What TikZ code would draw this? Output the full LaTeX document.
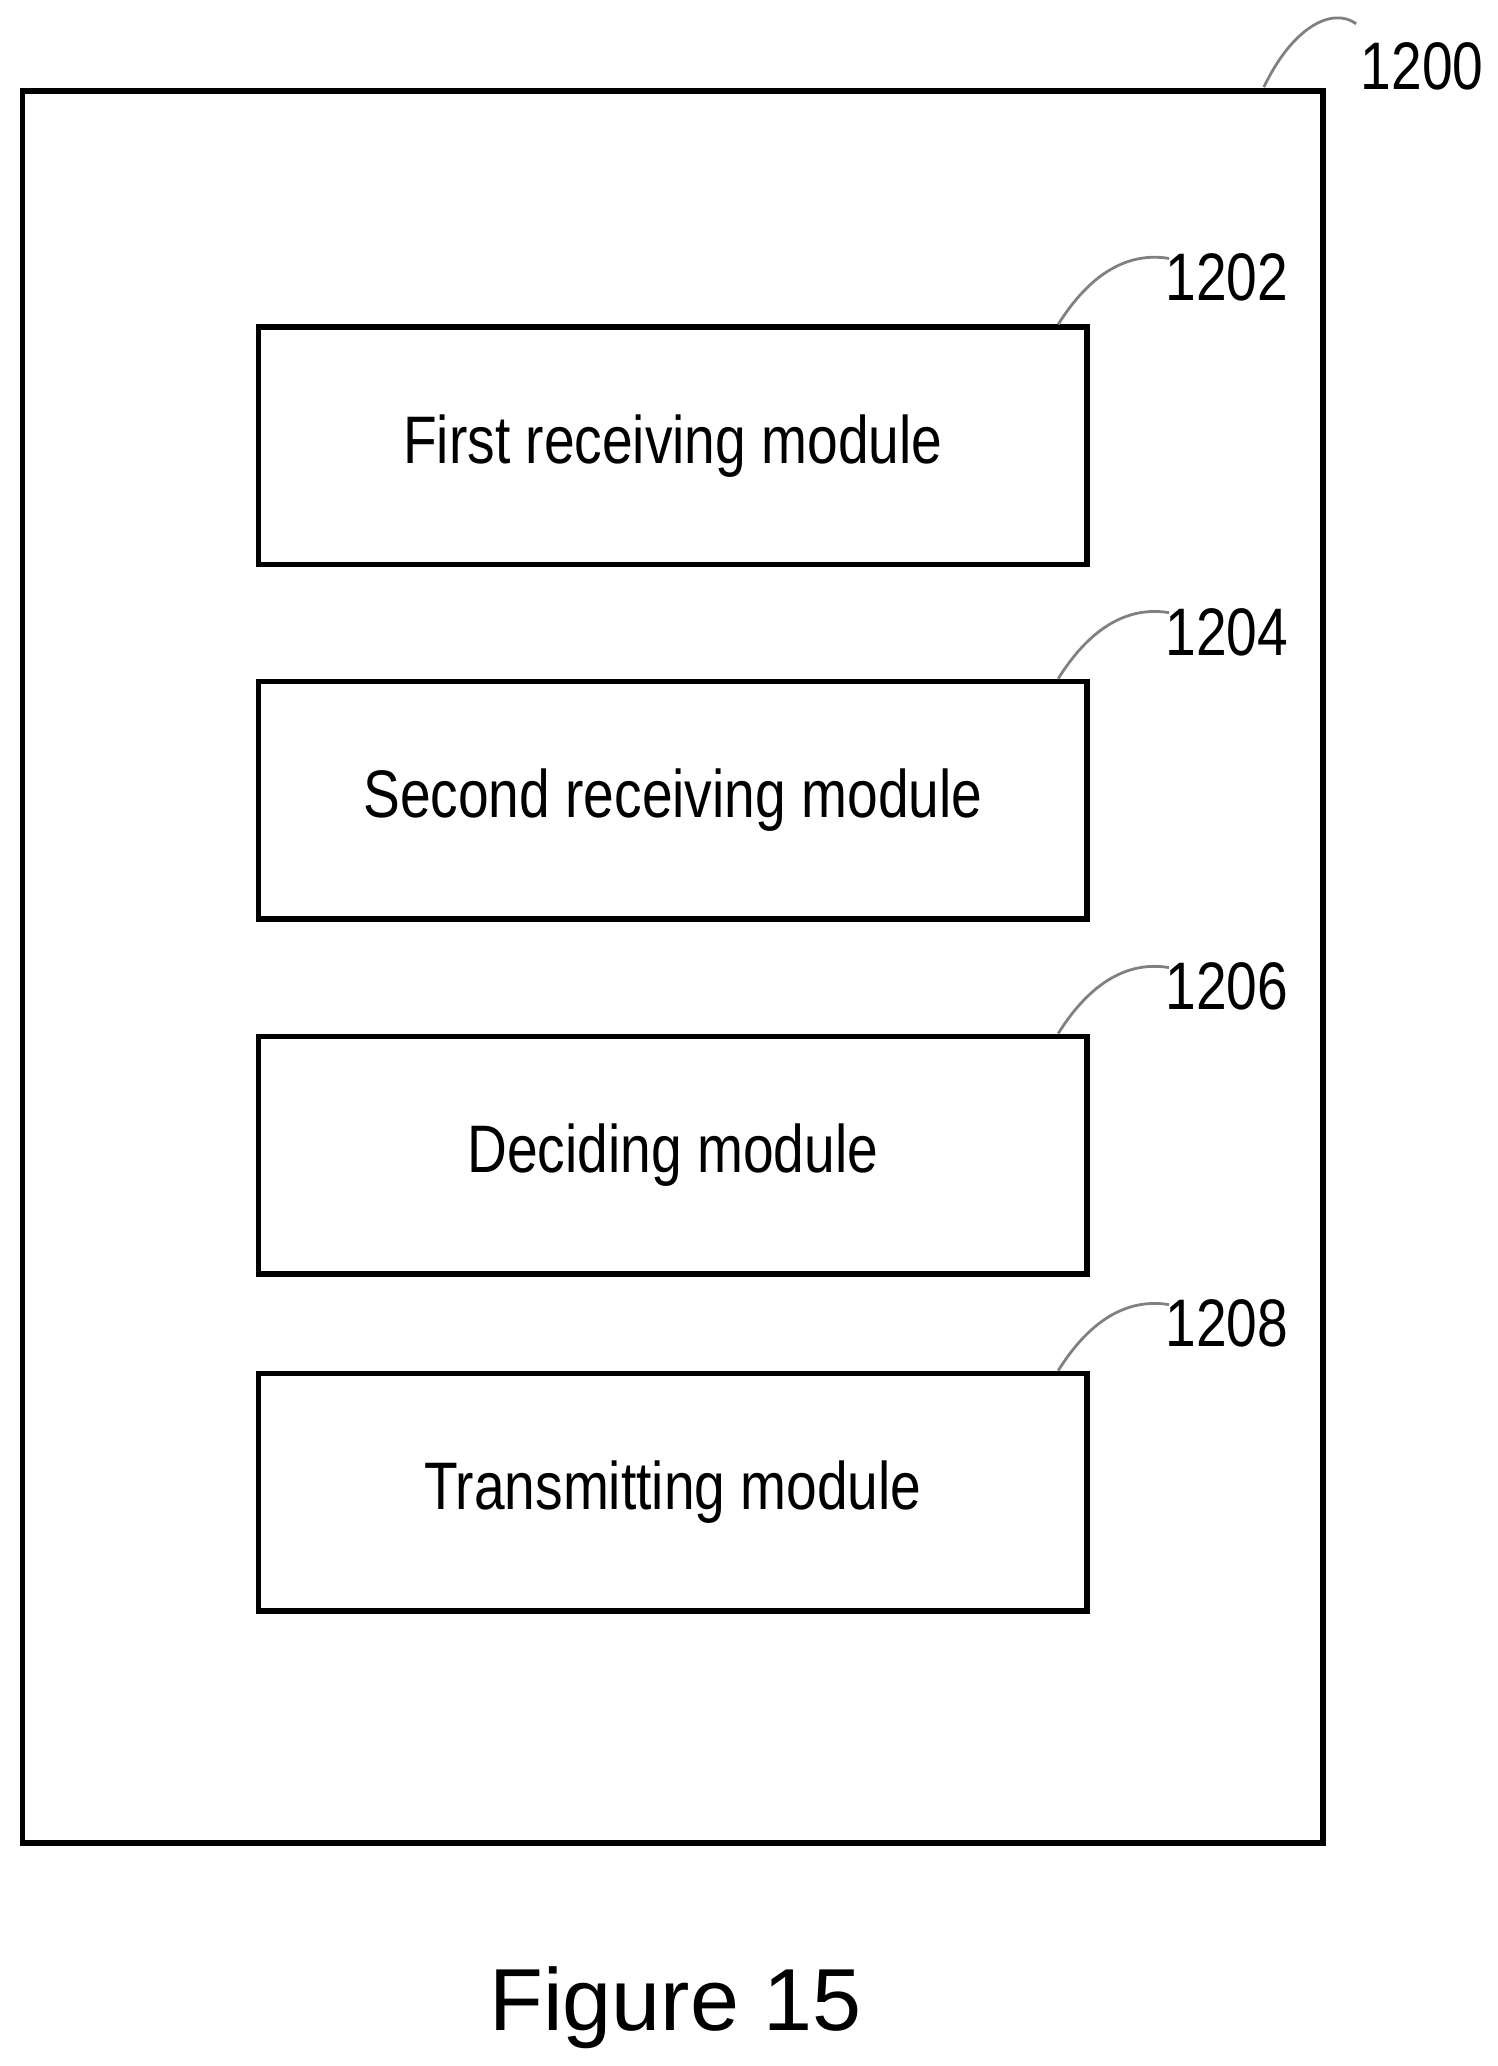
\documentclass[tikz,border=0pt]{standalone}
\usepackage{fontspec}
\setmainfont{Liberation Sans}
\newfontfamily\narrowfont[FakeStretch=0.82]{Liberation Sans}
\usetikzlibrary{positioning}
\tikzset{
    module/.style={draw,line width=1.2pt,minimum width=6.28cm,minimum height=1.8cm,
        font=\narrowfont\fontsize{14.5}{16}\selectfont},
    refnum/.style={font=\narrowfont\fontsize{14.5}{16}\selectfont},
    leader/.style={draw=gray,line width=0.6pt},
}
\begin{document}
\begin{tikzpicture}
    \useasboundingbox (0,0) rectangle (11.35,-15.66);

    % Outer device
    \draw[line width=1.2pt] (0.17,-0.69) rectangle (10.03,-13.97);
    \node[refnum] (n1200) at (10.78,-0.50) {1200};
    \coordinate (c1200) at (9.58,-0.66);
    \draw[leader] (c1200) .. controls (9.8,-0.2) and (10.1,-0.05) .. (10.28,-0.18);

    % Modules
    \node[module] (m1) at (5.10,-3.38) {First receiving module};
    \node[module] (m2) at (5.10,-6.065) {Second receiving module};
    \node[module] (m3) at (5.10,-8.755) {Deciding module};
    \node[module] (m4) at (5.10,-11.31) {Transmitting module};

    % Reference numerals
    \foreach \m/\lbl in {m1/1202,m2/1204,m3/1206,m4/1208}{
        \node[refnum,above right=0.05cm and 0.45cm] (l\m) at (\m.north east) {\lbl};
        \draw[leader] ([xshift=-0.24cm]\m.north east) .. controls +(0.25,0.4) and +(-0.3,0.05) .. ([xshift=0.6cm,yshift=0.5cm]\m.north east);
    }

    % Caption
    \node[font=\fontsize{19}{22}\selectfont] (cap) at (5.12,-15.22) {Figure 15};
\end{tikzpicture}
\end{document}
